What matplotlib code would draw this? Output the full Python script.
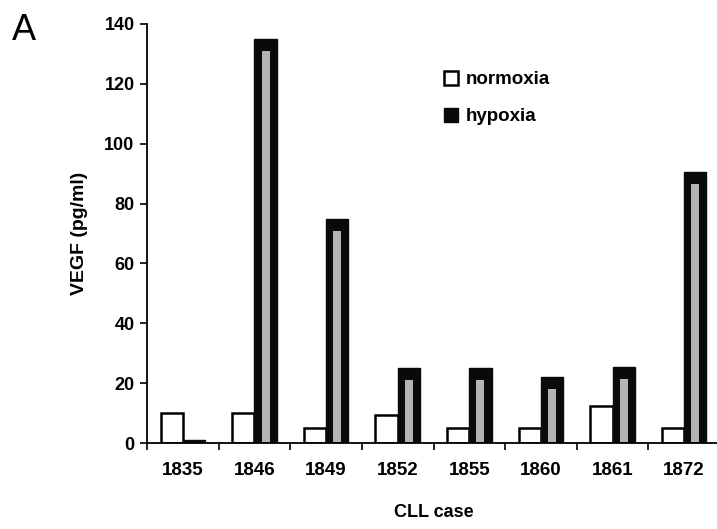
import matplotlib
matplotlib.use("Agg")
import matplotlib.pyplot as plt
import numpy as np

cases = ["1835", "1846", "1849", "1852", "1855", "1860", "1861", "1872"]
normoxia = [10, 10, 5, 9.5, 5, 5, 12.5, 5]
hypoxia = [1, 135, 75, 25, 25, 22, 25.5, 90.5]
yticks = [0, 20, 40, 60, 80, 100, 120, 140]

plt.rcParams['font.family'] = ['Liberation Sans', 'DejaVu Sans']
plt.rcParams['hatch.color'] = '#6a6a6a'
plt.rcParams['hatch.linewidth'] = 0.6

W, H = 717, 529
fig = plt.figure(figsize=(W / 100, H / 100), dpi=100)
ax = fig.add_axes([147 / W, (H - 443) / H, (720 - 147) / W, (443 - 24) / H])

x = np.arange(len(cases))
bw = 0.31
ax.bar(x - bw / 2, normoxia, width=bw, color='white', edgecolor='black',
       linewidth=1.8, label='normoxia', zorder=2)
ax.bar(x + bw / 2, hypoxia, width=bw, color='#0a0a0a', edgecolor='#0a0a0a',
       linewidth=1.0, label='hypoxia', zorder=2)
# gray stippled core of the hypoxia bars
hyp = np.array(hypoxia)
mask = hyp > 5
ax.bar((x + bw / 2)[mask], hyp[mask] - 4.5, bottom=0.5, width=bw * 0.36,
       color='#b4b4b4', edgecolor='none', hatch='....', zorder=3)

ax.set_xlim(-0.5, 7.5)
ax.set_ylim(0, 140)
ax.set_yticks(yticks)
ax.set_yticklabels([str(t) for t in yticks], fontsize=13, fontweight='bold')
ax.set_xticks(x)
ax.set_xticklabels(cases, fontsize=13.5, fontweight='bold')
ax.tick_params(axis='x', length=0, pad=14)
ax.set_xticks(np.arange(-0.5, 8.0, 1.0), minor=True)
ax.tick_params(axis='x', which='minor', length=5, width=1.2, direction='out')
ax.tick_params(axis='y', length=5, width=1.2, direction='out', pad=4)

for s in ['top', 'right']:
    ax.spines[s].set_visible(False)
for s in ['left', 'bottom']:
    ax.spines[s].set_linewidth(1.3)

ax.set_ylabel('VEGF (pg/ml)', fontsize=14, fontweight='bold', labelpad=12)
ax.set_xlabel('CLL case', fontsize=13, fontweight='bold', labelpad=18)

leg = fig.legend(loc='upper left', bbox_to_anchor=(427 / W, 1 - 54 / H),
                 frameon=False, handlelength=0.75,
                 handleheight=0.75, handletextpad=0.4, labelspacing=1.05,
                 prop={'weight': 'bold', 'size': 13.5})

fig.text(12 / W, 1 - 40 / H, 'A', fontsize=26, ha='left', va='baseline')

fig.savefig('out.png', dpi=100)
